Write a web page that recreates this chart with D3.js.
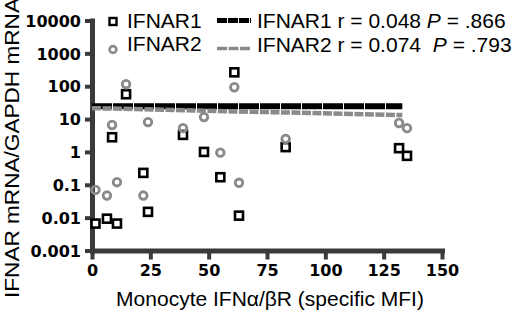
<!DOCTYPE html>
<html>
<head>
<meta charset="utf-8">
<script src="https://cdn.jsdelivr.net/npm/d3@7"></script>
<style>
  body { margin: 0; background: #fff; }
  svg { display: block; }
  text { font-family: "Liberation Sans", Arial, sans-serif; }
</style>
</head>
<body>
<svg id="chart" width="520" height="314"></svg>
<script>
// monocyte IFNa/bR specific MFI, one entry per donor
const mfi = [1.5, 6.4, 10.7, 8.6, 14.6, 22, 24, 39, 48, 55, 61, 63, 83, 131.6, 135];
const ifnar1 = [0.0066, 0.0093, 0.0066, 2.8, 57, 0.23, 0.015, 3.3, 1.0, 0.17, 265, 0.0115, 1.4, 1.3, 0.76];
const ifnar2 = [0.07, 0.047, 0.12, 6.6, 115, 0.047, 8.1, 5.3, 11.5, 0.95, 93, 0.115, 2.5, 7.6, 5.3];

// regression lines (start / end)
const fitX = [0, 133];
const fit1 = [24.6, 24.6];
const fit2 = [21.5, 13.2];

const xTicks = [0, 25, 50, 75, 100, 125, 150];
const yTicks = [0.001, 0.01, 0.1, 1, 10, 100, 1000, 10000];
const yTickLabels = ["0.001", "0.01", "0.1", "1", "10", "100", "1000", "10000"];

const AXIS = "#3a3a3a";
const GRAY = "#8a8a8a";

const svg = d3.select("#chart");

const x = d3.scaleLinear().domain([0, 150]).range([92, 442]);
const y = d3.scaleLog().domain([0.001, 10000]).range([250.5, 20.5]);

// axes
const xAxis = svg.append("g")
  .attr("transform", `translate(0,${y(0.001)})`)
  .call(d3.axisBottom(x).tickValues(xTicks).tickSize(9).tickSizeOuter(0).tickPadding(5));

const yAxis = svg.append("g")
  .attr("transform", `translate(${x(0)},0)`)
  .call(d3.axisLeft(y).tickValues(yTicks).tickSize(7).tickSizeOuter(0).tickPadding(4)
    .tickFormat((d, i) => yTickLabels[i]));

[xAxis, yAxis].forEach(g => {
  g.select(".domain").attr("stroke", AXIS).attr("stroke-width", 5).attr("stroke-linecap", "square");
  g.selectAll(".tick line").attr("stroke", AXIS).attr("stroke-width", 4);
  g.selectAll(".tick text")
    .attr("fill", "#000")
    .style("font-family", "'DejaVu Sans', sans-serif")
    .style("font-weight", "bold")
    .style("font-size", "16px");
});
yAxis.selectAll(".tick text").attr("dy", "0.36em");

// fit lines
const line = d3.line().x(d => x(d[0])).y(d => y(d[1]));
svg.append("path")
  .datum(d3.zip(fitX, fit1))
  .attr("d", line)
  .attr("fill", "none")
  .attr("stroke", "#000")
  .attr("stroke-width", 6)
  .attr("stroke-dasharray", "20 1");
svg.append("path")
  .datum(d3.zip(fitX, fit2))
  .attr("d", line)
  .attr("fill", "none")
  .attr("stroke", GRAY)
  .attr("stroke-width", 4.5)
  .attr("stroke-dasharray", "9 1.5");

// points
const sq = 8;
svg.append("g").selectAll("rect")
  .data(d3.zip(mfi, ifnar1))
  .join("rect")
  .attr("x", d => x(d[0]) - sq / 2)
  .attr("y", d => y(d[1]) - sq / 2)
  .attr("width", sq)
  .attr("height", sq)
  .attr("fill", "#fff")
  .attr("stroke", "#000")
  .attr("stroke-width", 2.6);

svg.append("g").selectAll("circle")
  .data(d3.zip(mfi, ifnar2))
  .join("circle")
  .attr("cx", d => x(d[0]))
  .attr("cy", d => y(d[1]))
  .attr("r", 3.8)
  .attr("fill", "none")
  .attr("stroke", GRAY)
  .attr("stroke-width", 2.8);

// legend
const leg = svg.append("g");
leg.append("rect").attr("x", 109.5).attr("y", 18).attr("width", 7).attr("height", 7)
  .attr("fill", "#fff").attr("stroke", "#000").attr("stroke-width", 2.4);
leg.append("circle").attr("cx", 113).attr("cy", 49.5).attr("r", 3.4)
  .attr("fill", "none").attr("stroke", GRAY).attr("stroke-width", 2.6);
leg.append("text").attr("x", 127).attr("y", 27.5).style("font-size", "21px").text("IFNAR1");
leg.append("text").attr("x", 127).attr("y", 50.5).style("font-size", "21px").text("IFNAR2");

leg.append("line").attr("x1", 217).attr("x2", 251).attr("y1", 20.5).attr("y2", 20.5)
  .attr("stroke", "#000").attr("stroke-width", 5).attr("stroke-dasharray", "10 1");
leg.append("line").attr("x1", 217).attr("x2", 251).attr("y1", 48.5).attr("y2", 48.5)
  .attr("stroke", GRAY).attr("stroke-width", 3.5).attr("stroke-dasharray", "10 1.5");

const stats = [
  { name: "IFNAR1", r: "0.048", p: ".866", yb: 27.5, gap: 0 },
  { name: "IFNAR2", r: "0.074", p: ".793", yb: 51.5, gap: 6 }
];
stats.forEach(s => {
  const t = leg.append("text").attr("x", 257).attr("y", s.yb).style("font-size", "21px");
  t.append("tspan").text(`${s.name} r = ${s.r} `);
  t.append("tspan").attr("dx", s.gap).style("font-style", "italic").text("P");
  t.append("tspan").text(` = ${s.p}`);
});

// axis titles
svg.append("text")
  .attr("x", 270).attr("y", 306)
  .attr("text-anchor", "middle")
  .style("font-size", "21px")
  .text("Monocyte IFN\u03b1/\u03b2R (specific MFI)");

svg.append("text")
  .attr("transform", "translate(19,148) rotate(-90)")
  .attr("text-anchor", "middle")
  .attr("textLength", 300)
  .attr("lengthAdjust", "spacingAndGlyphs")
  .style("font-size", "21px")
  .text("IFNAR mRNA/GAPDH mRNA");
</script>
</body>
</html>
